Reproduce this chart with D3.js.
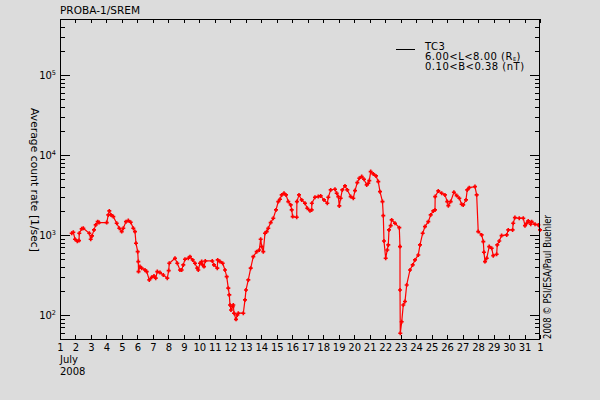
<!DOCTYPE html>
<html><head><meta charset="utf-8">
<script src="https://cdn.jsdelivr.net/npm/d3@7"></script>
<style>
body{margin:0;background:#dcdcdc;}
svg{display:block;}
text{font-family:"DejaVu Sans","Liberation Sans",Arial,sans-serif;font-size:10px;fill:#000;}
</style>
</head><body><svg id="c" width="600" height="400"></svg>
<script>
// ---- data (day of July 2008, fractional; average count rate [1/sec]) ----
const days=[1.756,1.859,1.969,2.117,2.227,2.246,2.401,2.505,2.892,2.983,3.067,3.196,3.306,3.435,3.519,4.016,4.119,4.184,4.294,4.442,4.662,4.829,4.985,5.088,5.262,5.411,5.566,5.734,5.843,5.908,6.018,6.057,6.07,6.166,6.276,6.489,6.599,6.767,6.922,7.071,7.181,7.284,7.458,7.671,7.929,8.020,8.058,8.427,8.575,8.749,8.859,8.962,9.072,9.285,9.395,9.570,9.718,9.867,9.931,10.041,10.151,10.215,10.299,10.383,10.835,10.945,11.158,11.184,11.333,11.507,11.656,11.766,11.869,11.934,11.979,12.043,12.153,12.192,12.237,12.366,12.450,12.515,12.838,12.948,13.012,13.161,13.316,13.483,13.703,13.871,13.961,14.026,14.129,14.239,14.349,14.452,14.607,14.775,14.950,15.098,15.208,15.318,15.467,15.596,15.744,15.899,15.964,16.028,16.287,16.30,16.435,16.609,16.822,16.971,17.145,17.255,17.265,17.468,17.681,17.836,18.050,18.263,18.328,18.483,18.760,18.870,18.973,19.038,19.128,19.231,19.406,19.554,19.774,19.942,20.052,20.200,20.330,20.485,20.633,20.808,20.911,20.975,21.066,21.234,21.407,21.556,21.666,21.827,21.879,21.924,22.034,22.137,22.202,22.247,22.357,22.421,22.635,22.913,22.958,22.96,22.977,23.068,23.171,23.281,23.391,23.604,23.778,23.927,24.140,24.249,24.424,24.572,24.785,24.940,25.108,25.218,25.23,25.43,25.65,25.86,26.01,26.08,26.23,26.44,26.62,26.79,26.94,27.04,27.22,27.30,27.43,27.80,27.91,28.01,28.23,28.34,28.38,28.45,28.56,28.72,28.88,28.98,29.20,29.24,29.37,29.52,29.85,29.95,30.23,30.27,30.38,30.66,30.92,31.03,31.14,31.24,31.40,31.46,31.68,31.89,32.0];
const rates=[1050,1080,884,834,849,1050,1190,1213,1050,884,972,1155,1334,1466,1425,1425,1778,1995,1778,1694,1400,1213,1100,1213,1466,1510,1442,1213,1100,787,618,464,348,402,384,365,348,274,296,307,288,348,338,316,288,358,443,511,443,365,365,422,497,511,535,487,443,384,365,443,464,422,402,473,473,422,384,487,464,443,365,301,216,178,133,115,127,133,105,88,100,105,105,154,205,274,384,535,618,649,884,714,618,1050,1100,1213,1425,1617,2054,2608,2793,3162,3320,3162,2608,2371,2054,1694,1663,2608,3162,2738,2489,2158,2012,2054,2489,2958,3013,3073,2738,2489,2958,3652,3727,3320,3013,2304,2877,3652,4098,3652,3013,2877,3580,4508,5117,5358,4966,4217,4426,4775,6185,5788,5463,4637,3475,2608,1742,841,511,649,750,1155,1306,1540,1400,1233,714,205,59,82,133,147,237,365,422,487,562,750,1050,1270,1466,1778,1995,2054,3013,3548,3320,3162,2608,2323,2608,3420,3100,2877,2421,2371,2738,3652,3900,4015,3162,1100,1000,825,608,464,511,714,682,551,574,750,841,980,1000,1155,1155,1400,1645,1617,1617,1306,1400,1496,1360,1466,1360,1334,1155];
const xTickDays=d3.range(1,33);
const xTickLabels=xTickDays.map(d=>String(d>31?d-31:d));
const yDecadeExps=[2,3,4,5];
const titleText="PROBA-1/SREM";
const yTitle="Average count rate [1/sec]";
const monthLabel="July";
const yearLabel="2008";
const creditText="2008 \u00A9 PSI/ESA/Paul Buehler";
const legendName="TC3";
const legendL="6.00<L<8.00 (R";
const legendLsub="E";
const legendB="0.10<B<0.38 (nT)";

// ---- layout ----
const L=60,R=540,T=19,B=339;
const svg=d3.select("#c");
const x=d3.scaleLinear().domain([1,32]).range([L,R]);
const y=d3.scaleLog().domain([50,5e5]).range([B,T]);

svg.append("rect").attr("width",600).attr("height",400).attr("fill","#dcdcdc");

// data line + markers
const pts=days.map((d,i)=>[d,rates[i]]);
svg.append("path").datum(pts)
  .attr("fill","none").attr("stroke","#ff0000").attr("stroke-width",1.2)
  .attr("d",d3.line().x(d=>x(d[0])).y(d=>y(d[1])));
svg.append("g").selectAll("path").data(pts).join("path")
  .attr("transform",d=>`translate(${x(d[0])},${y(d[1])})`)
  .attr("d","M-2,0H2M0,-2V2").attr("stroke","#ff0000").attr("stroke-width",1.6);

// frame
const ax=svg.append("g").attr("shape-rendering","crispEdges").attr("stroke","#000").attr("stroke-width",1);
ax.append("rect").attr("x",L+0.5).attr("y",T+0.5).attr("width",R-L-1).attr("height",B-T).attr("fill","none");

// x ticks (bottom and top, inward)
xTickDays.forEach(d=>{
  const px=Math.round(x(d))+0.5;
  ax.append("line").attr("x1",px).attr("x2",px).attr("y1",B).attr("y2",B-4);
  ax.append("line").attr("x1",px).attr("x2",px).attr("y1",T).attr("y2",T+4);
});
svg.append("g").selectAll("text").data(xTickDays).join("text")
  .attr("x",d=>x(d)+0.5).attr("y",351).attr("text-anchor","middle")
  .text((d,i)=>xTickLabels[i]);

// y ticks (log, major + minor on both sides)
const yTicks=[];
for(let e=1;e<=5;e++) for(let m=1;m<=9;m++){const v=m*Math.pow(10,e); if(v>=50&&v<=5e5) yTicks.push(v);}
yTicks.forEach(v=>{
  const major=Math.abs(Math.log10(v)%1)<1e-9;
  const len=major?10:5;
  const py=Math.round(y(v))+0.5;
  ax.append("line").attr("x1",L).attr("x2",L+len).attr("y1",py).attr("y2",py);
  ax.append("line").attr("x1",R).attr("x2",R-len).attr("y1",py).attr("y2",py);
});
const yl=svg.append("g").selectAll("text").data(yDecadeExps).join("text")
  .attr("x",56).attr("y",e=>y(Math.pow(10,e))+4).attr("text-anchor","end");
yl.append("tspan").text("10");
yl.append("tspan").attr("dy",-4).attr("font-size","6.5px").text(e=>e);

// titles
svg.append("text").attr("x",60).attr("y",14).attr("textLength",80).attr("lengthAdjust","spacingAndGlyphs").text(titleText);
svg.append("text").attr("transform",`translate(30.5,108) rotate(90)`).attr("textLength",144).attr("lengthAdjust","spacingAndGlyphs").text(yTitle);
svg.append("text").attr("x",60).attr("y",363).text(monthLabel);
svg.append("text").attr("x",60).attr("y",375).text(yearLabel);
svg.append("text").attr("transform",`translate(550.5,339) rotate(-90)`).attr("textLength",124).attr("lengthAdjust","spacingAndGlyphs").text(creditText);

// legend
svg.append("line").attr("x1",396).attr("x2",415).attr("y1",49.5).attr("y2",49.5).attr("stroke","#000").attr("shape-rendering","crispEdges");
const lg=svg.append("g").style("font-size","7.5px").style("letter-spacing","0.5px");
lg.append("text").attr("x",425).attr("y",50).text(legendName);
const lt=lg.append("text").attr("x",425).attr("y",60);
lt.append("tspan").text(legendL);
lt.append("tspan").attr("dy",1).attr("font-size","5px").text(legendLsub);
lt.append("tspan").attr("dy",-1).text(")");
lg.append("text").attr("x",425).attr("y",70).text(legendB);
</script>
</body></html>
